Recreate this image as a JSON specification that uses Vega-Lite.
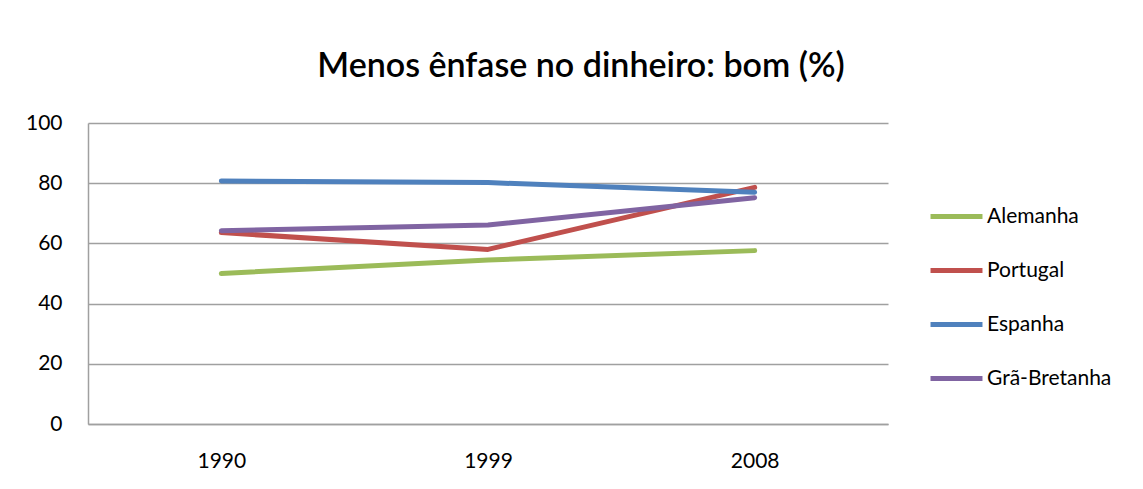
{
  "$schema": "https://vega.github.io/schema/vega-lite/v6.json",
  "width": 800,
  "height": 301,
  "autosize": {"type": "none"},
  "padding": {"left": 88, "top": 123, "right": 255, "bottom": 65},
  "background": "white",
  "title": {
    "text": "Menos ênfase no dinheiro: bom (%)",
    "font": "Lato",
    "fontSize": 34,
    "fontWeight": 600,
    "color": "#000000",
    "anchor": "middle",
    "dx": 93,
    "offset": 28
  },
  "data": {
    "values": [
      {"ano": "1990", "pais": "Alemanha", "valor": 50.0},
      {"ano": "1999", "pais": "Alemanha", "valor": 54.5},
      {"ano": "2008", "pais": "Alemanha", "valor": 57.6},
      {"ano": "1990", "pais": "Portugal", "valor": 63.6},
      {"ano": "1999", "pais": "Portugal", "valor": 58.0},
      {"ano": "2008", "pais": "Portugal", "valor": 78.6},
      {"ano": "1990", "pais": "Espanha", "valor": 80.7},
      {"ano": "1999", "pais": "Espanha", "valor": 80.2},
      {"ano": "2008", "pais": "Espanha", "valor": 77.0},
      {"ano": "1990", "pais": "Grã-Bretanha", "valor": 64.2},
      {"ano": "1999", "pais": "Grã-Bretanha", "valor": 66.1},
      {"ano": "2008", "pais": "Grã-Bretanha", "valor": 75.2}
    ]
  },
  "mark": {"type": "line", "strokeWidth": 5, "strokeCap": "round", "strokeJoin": "round"},
  "encoding": {
    "x": {
      "field": "ano",
      "type": "ordinal",
      "scale": {"type": "point", "padding": 0.5},
      "axis": {
        "title": null,
        "labelAngle": 0,
        "labelFont": "Lato",
        "labelFontSize": 21,
        "labelColor": "#000000",
        "labelPadding": 26,
        "ticks": false,
        "domainColor": "#A0A0A0",
        "domainWidth": 1.5,
        "grid": false
      }
    },
    "y": {
      "field": "valor",
      "type": "quantitative",
      "scale": {"domain": [0, 100], "nice": false},
      "axis": {
        "title": null,
        "values": [0, 20, 40, 60, 80, 100],
        "labelFont": "Lato",
        "labelFontSize": 21,
        "labelColor": "#000000",
        "labelPadding": 26,
        "ticks": false,
        "domainColor": "#A0A0A0",
        "domainWidth": 1.5,
        "gridColor": "#A0A0A0",
        "gridWidth": 1.5
      }
    },
    "color": {
      "field": "pais",
      "type": "nominal",
      "sort": ["Alemanha", "Portugal", "Espanha", "Grã-Bretanha"],
      "scale": {
        "domain": ["Alemanha", "Portugal", "Espanha", "Grã-Bretanha"],
        "range": ["#9BBB59", "#C0504D", "#4F81BD", "#8064A2"]
      },
      "legend": {
        "title": null,
        "orient": "none",
        "legendX": 840,
        "legendY": 65,
        "symbolType": "stroke",
        "symbolSize": 2700,
        "symbolStrokeWidth": 5,
        "labelFont": "Lato",
        "labelFontSize": 21,
        "labelColor": "#000000",
        "labelOffset": 2,
        "rowPadding": 15
      }
    }
  },
  "config": {
    "view": {"stroke": null}
  }
}
